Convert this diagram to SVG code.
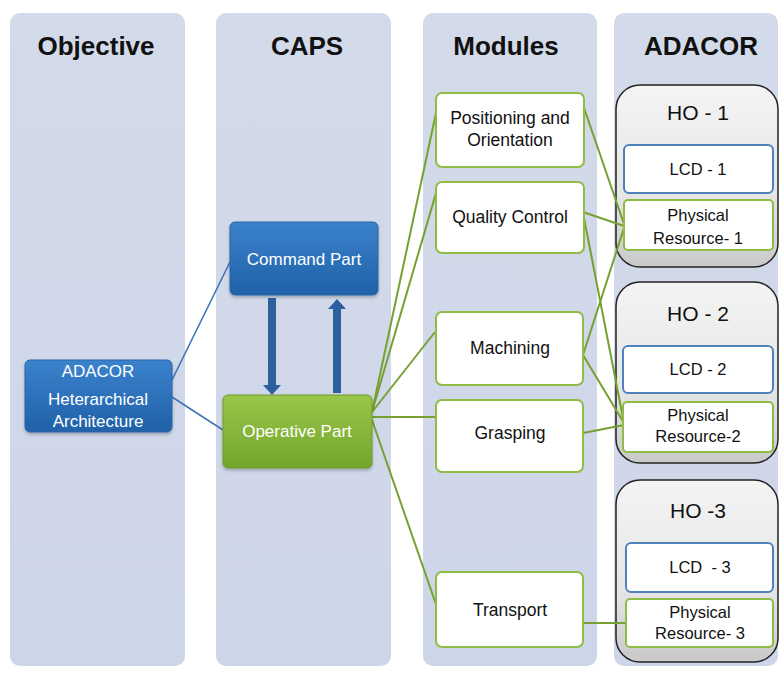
<svg xmlns="http://www.w3.org/2000/svg" width="780" height="673" viewBox="0 0 780 673">
<defs>
<linearGradient id="gCol" x1="0" y1="0" x2="0" y2="1"><stop offset="0" stop-color="#d3dbea"/><stop offset="1" stop-color="#cdd5e8"/></linearGradient>
<linearGradient id="gBlue" x1="0" y1="0" x2="0" y2="1"><stop offset="0" stop-color="#3a82cc"/><stop offset="1" stop-color="#2061a8"/></linearGradient>
<linearGradient id="gGreen" x1="0" y1="0" x2="0" y2="1"><stop offset="0" stop-color="#9ac74a"/><stop offset="1" stop-color="#73a42b"/></linearGradient>
<linearGradient id="gHO" x1="0" y1="0" x2="0" y2="1"><stop offset="0" stop-color="#f4f4f4"/><stop offset="0.6" stop-color="#e6e6e6"/><stop offset="1" stop-color="#c9c9c9"/></linearGradient>
<filter id="sh" x="-10%" y="-10%" width="120%" height="130%"><feDropShadow dx="0" dy="2" stdDeviation="1.5" flood-color="#000" flood-opacity="0.25"/></filter>
</defs>
<style>
.col{fill:url(#gCol);}
.hdr{font-family:"Liberation Sans",Arial,sans-serif;font-weight:bold;font-size:26px;fill:#111;text-anchor:middle;}
.blue{fill:url(#gBlue);stroke:#2a65a8;stroke-width:1;}
.green{fill:url(#gGreen);stroke:#6f9c2c;stroke-width:1;}
.wt{font-family:"Liberation Sans",Arial,sans-serif;font-size:17px;fill:#fff;text-anchor:middle;}
.mod{fill:#fff;stroke:#8fbc45;stroke-width:2;}
.lcd{fill:#fff;stroke:#4f81bd;stroke-width:2;}
.ho{fill:url(#gHO);stroke:#222;stroke-width:1.5;}
.t{font-family:"Liberation Sans",Arial,sans-serif;font-size:17.5px;fill:#111;text-anchor:middle;}
.tl{font-family:"Liberation Sans",Arial,sans-serif;font-size:16.5px;fill:#111;text-anchor:middle;}
.tp{font-family:"Liberation Sans",Arial,sans-serif;font-size:16.5px;fill:#111;text-anchor:middle;}
.hot{font-family:"Liberation Sans",Arial,sans-serif;font-size:21px;fill:#111;text-anchor:middle;}
.gl{stroke:#76a131;stroke-width:2;fill:none;}
.bl{stroke:#3f74b5;stroke-width:1.6;fill:none;}
.ar{fill:#2e60a0;}
</style>
<rect width="780" height="673" fill="#fff"/>
<g id="columns">
<rect class="col" x="10" y="13" width="175" height="653" rx="10"/>
<rect class="col" x="216" y="13" width="175" height="653" rx="10"/>
<rect class="col" x="423" y="13" width="174" height="653" rx="10"/>
<rect class="col" x="614" y="13" width="164" height="653" rx="10"/>
<text class="hdr" x="96" y="55">Objective</text>
<text class="hdr" x="307" y="55">CAPS</text>
<text class="hdr" x="506" y="55">Modules</text>
<text class="hdr" x="701" y="55">ADACOR</text>
</g>
<g id="ho1"><rect class="ho" x="616" y="85" width="162" height="182" rx="24"/><text class="hot" x="698" y="120">HO - 1</text></g>
<g id="ho2"><rect class="ho" x="616" y="282" width="162" height="181" rx="24"/><text class="hot" x="698" y="321">HO - 2</text></g>
<g id="ho3"><rect class="ho" x="616" y="480" width="162" height="182" rx="24"/><text class="hot" x="698" y="518">HO -3</text></g>
<g id="connectors">
<line class="bl" x1="172" y1="380" x2="230" y2="262"/>
<line class="bl" x1="172" y1="397" x2="223" y2="430"/>
<polygon class="ar" points="268,298 276,298 276,385 281,385 272,395 263,385 268,385"/>
<polygon class="ar" points="333,393 341,393 341,309 346,309 337,299 328,309 333,309"/>
<line class="gl" x1="372" y1="412" x2="436" y2="113"/>
<line class="gl" x1="372" y1="412" x2="436" y2="193"/>
<line class="gl" x1="372" y1="412" x2="435" y2="332"/>
<line class="gl" x1="372" y1="417" x2="436" y2="417"/>
<line class="gl" x1="372" y1="420" x2="438" y2="610"/>
<line class="gl" x1="583" y1="105" x2="624" y2="224"/>
<line class="gl" x1="583" y1="212" x2="624" y2="226"/>
<line class="gl" x1="583" y1="213" x2="624" y2="423"/>
<line class="gl" x1="583" y1="355" x2="624" y2="228"/>
<line class="gl" x1="583" y1="355" x2="624" y2="423"/>
<line class="gl" x1="583" y1="433" x2="624" y2="425"/>
<line class="gl" x1="583" y1="623" x2="626" y2="623"/>
</g>
<g id="adacor-arch"><rect class="blue" x="25" y="360" width="147" height="72" rx="5" filter="url(#sh)"/>
<text class="wt" x="98" y="377">ADACOR</text><text class="wt" x="98" y="405">Heterarchical</text><text class="wt" x="98" y="427">Architecture</text></g>
<g id="command"><rect class="blue" x="230" y="222" width="148" height="73" rx="5" filter="url(#sh)"/><text class="wt" x="304" y="265">Command Part</text></g>
<g id="operative"><rect class="green" x="223" y="395" width="149" height="73" rx="5" filter="url(#sh)"/><text class="wt" x="297" y="437">Operative Part</text></g>
<g id="positioning"><rect class="mod" x="436" y="93" width="148" height="74" rx="6"/><text class="t" x="510" y="124">Positioning and</text><text class="t" x="510" y="146">Orientation</text></g>
<g id="quality"><rect class="mod" x="436" y="182" width="148" height="71" rx="6"/><text class="t" x="510" y="223">Quality Control</text></g>
<g id="machining"><rect class="mod" x="436" y="312" width="147" height="73" rx="6"/><text class="t" x="510" y="354">Machining</text></g>
<g id="grasping"><rect class="mod" x="436" y="400" width="147" height="72" rx="6"/><text class="t" x="510" y="439">Grasping</text></g>
<g id="transport"><rect class="mod" x="436" y="572" width="147" height="75" rx="6"/><text class="t" x="510" y="616">Transport</text></g>
<g id="lcd1"><rect class="lcd" x="624" y="145" width="149" height="48" rx="5"/><text class="tl" x="698" y="175">LCD - 1</text></g>
<g id="pr1"><rect class="mod" x="624" y="200" width="149" height="50" rx="4"/><text class="tp" x="698" y="221">Physical</text><text class="tp" x="698" y="244">Resource- 1</text></g>
<g id="lcd2"><rect class="lcd" x="623" y="346" width="150" height="47" rx="5"/><text class="tl" x="698" y="375">LCD - 2</text></g>
<g id="pr2"><rect class="mod" x="623" y="402" width="150" height="50" rx="4"/><text class="tp" x="698" y="421">Physical</text><text class="tp" x="698" y="442">Resource-2</text></g>
<g id="lcd3"><rect class="lcd" x="626" y="543" width="147" height="49" rx="5"/><text class="tl" x="700" y="573" style="white-space:pre">LCD  - 3</text></g>
<g id="pr3"><rect class="mod" x="626" y="599" width="147" height="48" rx="4"/><text class="tp" x="700" y="618">Physical</text><text class="tp" x="700" y="639">Resource- 3</text></g>
</svg>
